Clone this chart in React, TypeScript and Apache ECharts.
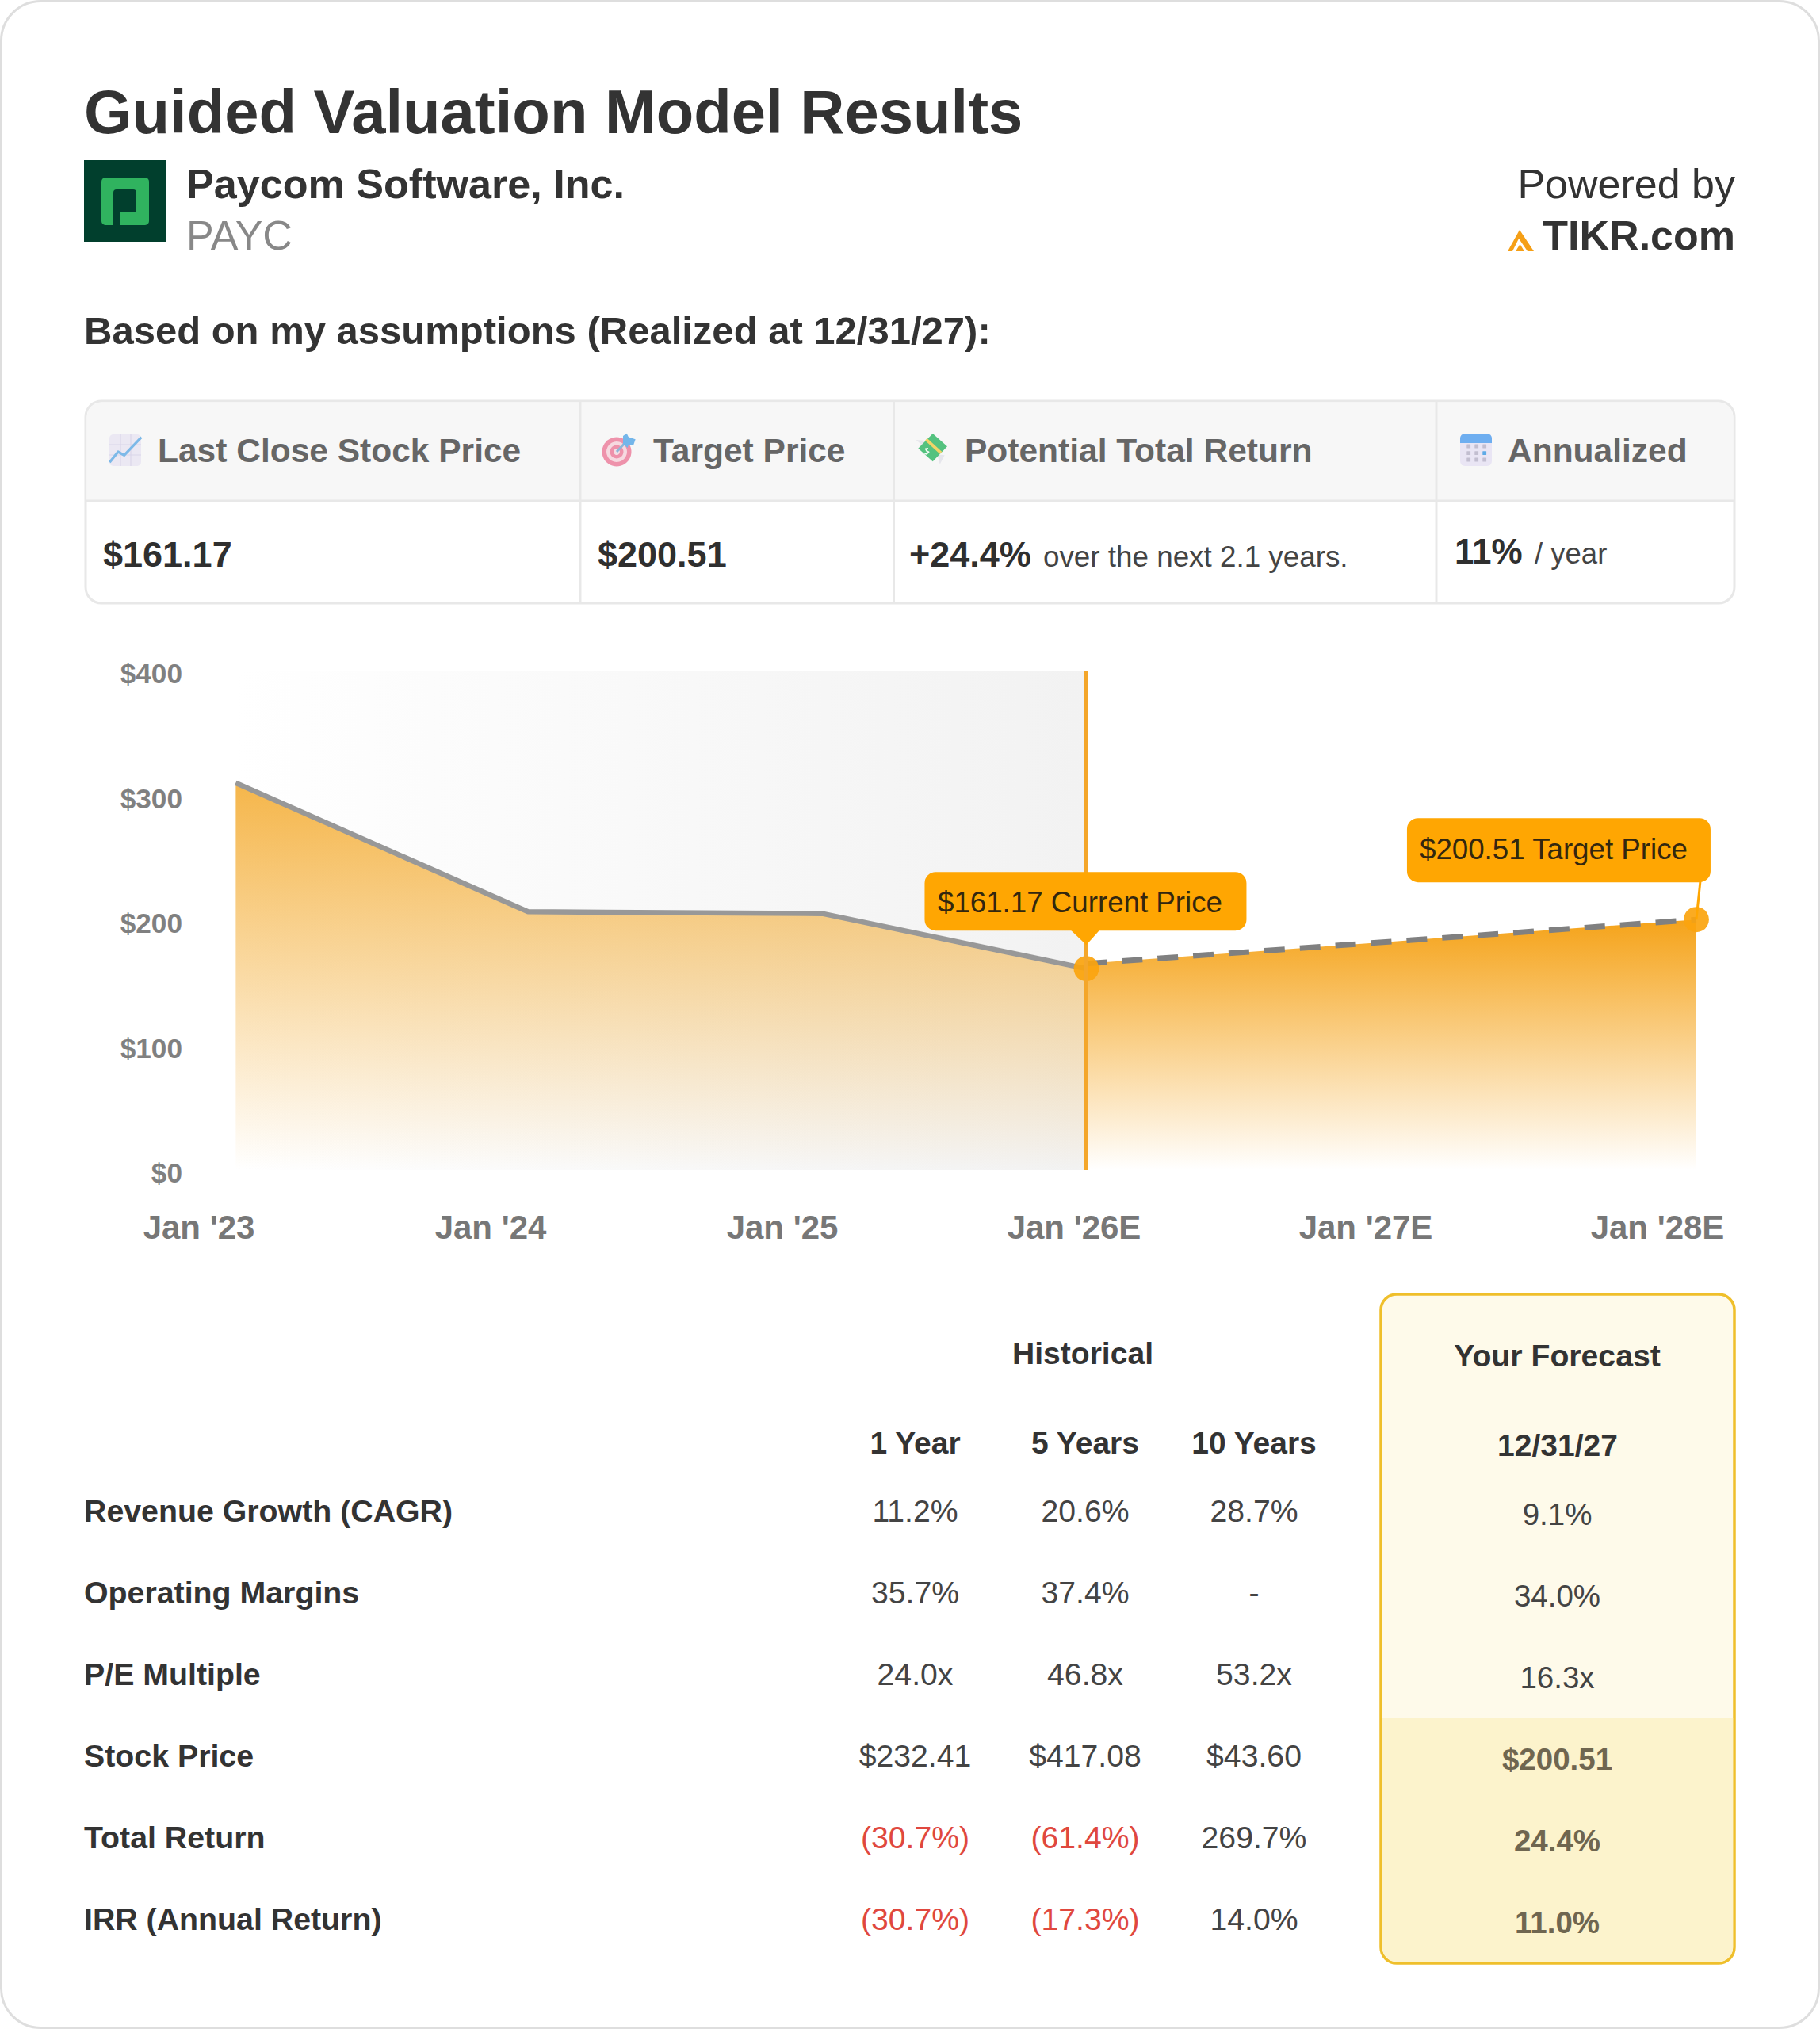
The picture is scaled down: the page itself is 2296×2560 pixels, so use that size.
import React, { useEffect, useRef } from "react";
import * as echarts from "echarts";

const FONT = '"Liberation Sans", Arial, Helvetica, sans-serif';

const dates = [2023.126, 2024.128, 2025.137, 2026.042];
const historicalPrices = [310, 206.8, 205.3, 161.17];
const forecastDates = [2026.042, 2028.133];
const forecastPrices = [165.2, 200.51];
const markerDates = [2026.042, 2028.133];
const markerPrices = [161.17, 200.51];
const xTickLabels = ["Jan '23", "Jan '24", "Jan '25", "Jan '26E", "Jan '27E", "Jan '28E"];

const summaryHeaders = ["Last Close Stock Price", "Target Price", "Potential Total Return", "Annualized"];
const rowLabels = ["Revenue Growth (CAGR)", "Operating Margins", "P/E Multiple", "Stock Price", "Total Return", "IRR (Annual Return)"];
const historyHeaders = ["1 Year", "5 Years", "10 Years"];
const oneYear = ["11.2%", "35.7%", "24.0x", "$232.41", "(30.7%)", "(30.7%)"];
const fiveYears = ["20.6%", "37.4%", "46.8x", "$417.08", "(61.4%)", "(17.3%)"];
const tenYears = ["28.7%", "-", "53.2x", "$43.60", "269.7%", "14.0%"];
const forecast = ["9.1%", "34.0%", "16.3x", "$200.51", "24.4%", "11.0%"];

type Any = any;

function T(text: string, x: number, y: number, size: number, weight: string, fill: string, align = "left"): Any {
  return {
    type: "text", z: 100, x, y, silent: true,
    style: { text, fill, font: `${weight} ${size}px ${FONT}`, textAlign: align, textVerticalAlign: "middle" },
  };
}
function R(x: number, y: number, width: number, height: number, fill: string, r: Any = 0, stroke?: string, lineWidth = 0, z = 50): Any {
  return {
    type: "rect", z, silent: true,
    shape: { x, y, width, height, r },
    style: { fill, stroke: stroke || undefined, lineWidth },
  };
}
function L(x1: number, y1: number, x2: number, y2: number, stroke: string, lineWidth: number, z = 60): Any {
  return { type: "line", z, silent: true, shape: { x1, y1, x2, y2 }, style: { stroke, lineWidth } };
}
function PG(points: number[][], fill: string, z = 60): Any {
  return { type: "polygon", z, silent: true, shape: { points }, style: { fill } };
}
function PL(points: number[][], stroke: string, lineWidth: number, z = 61): Any {
  return { type: "polyline", z, silent: true, shape: { points }, style: { stroke, lineWidth, fill: "none", lineJoin: "round" } };
}
function C(cx: number, cy: number, r: number, fill: string, z = 60): Any {
  return { type: "circle", z, silent: true, shape: { cx, cy, r }, style: { fill } };
}
// icon points are given on a 180-unit grid covering a 60px square
const u = (ox: number, oy: number, pts: number[][]) => pts.map(([a, b]) => [ox + a / 3, oy + b / 3]);

function chartIcon(ox: number, oy: number): Any[] {
  const out: Any[] = [R(ox + 13, oy + 13, 40, 40, "#ebe8f3", 5, undefined, 0, 60)];
  [27, 40].forEach((d) => {
    out.push(L(ox + d, oy + 13, ox + d, oy + 53, "#dad6e9", 1.2, 60));
    out.push(L(ox + 13, oy + d - 1, ox + 53, oy + d - 1, "#dad6e9", 1.2, 60));
  });
  out.push(PL(u(ox, oy, [[40, 145], [72, 105], [95, 118], [160, 50]]), "#7db9e8", 3.2));
  return out;
}
function targetIcon(ox: number, oy: number): Any[] {
  const cx = ox + 28, cy = oy + 35;
  return [
    C(cx, cy, 18.5, "#ee92ab"), C(cx, cy, 13, "#f6d9e0"), C(cx, cy, 8.5, "#ee92ab"), C(cx, cy, 4, "#f3dfe4"),
    L(cx, cy, ox + 42, oy + 20, "#8fb7d8", 3),
    PG(u(ox, oy, [[108, 45], [122, 35], [135, 62], [125, 90], [108, 75]]), "#74b6ea"),
    PG(u(ox, oy, [[125, 48], [155, 58], [148, 78], [122, 78]]), "#74b6ea"),
  ];
}
function moneyIcon(ox: number, oy: number): Any[] {
  return [
    PG(u(ox, oy, [[32, 60], [62, 62], [60, 85]]), "#e6e6ec"),
    PG(u(ox, oy, [[112, 115], [140, 118], [122, 152]]), "#e6e6ec"),
    PG(u(ox, oy, [[95, 36], [150, 85], [95, 142], [40, 92]]), "#54c27f"),
    PG(u(ox, oy, [[66, 62], [74, 54], [130, 105], [122, 113]]), "#f1d468", 61),
    PL(u(ox, oy, [[78, 92], [68, 94], [72, 102], [80, 106], [72, 114], [64, 112]]), "#f3fbf6", 1.6, 62),
  ];
}
function calendarIcon(ox: number, oy: number): Any[] {
  const out: Any[] = [
    R(ox + 10, oy + 12, 40, 41, "#e9e5f4", 6, undefined, 0, 60),
    R(ox + 10, oy + 12, 40, 12, "#6eaef0", [6, 6, 0, 0], undefined, 0, 61),
  ];
  [28, 36.7, 45].forEach((dy, i) =>
    [20.7, 30.7, 40.7].forEach((dx, j) => {
      out.push(R(ox + dx - 2.4, oy + dy - 2.4, 4.8, 4.8, i === 1 && j === 2 ? "#5eaae6" : "#c2bed0", 0.5, undefined, 0, 62));
    })
  );
  return out;
}

function buildGraphics(cur: number[], tgt: number[]): Any[] {
  const els: Any[] = [];
  // card
  els.push(R(1.5, 1.5, 2293, 2557, "rgba(255,255,255,0)", 50, "#dedede", 3, 1));

  // header
  els.push(T("Guided Valuation Model Results", 106, 141, 77.8, "bold", "#333333"));
  els.push(R(106, 202, 103, 103, "#013f2d"));
  els.push(R(128, 224, 60, 60, "#30b35f", 5, undefined, 0, 51));
  els.push(R(143, 239, 29, 29, "#013f2d", 4, undefined, 0, 52));
  els.push(R(143, 255, 9, 31, "#013f2d", 0, undefined, 0, 52));
  els.push(R(152, 268, 8, 16, "#30b35f", 0, undefined, 0, 53));
  els.push(T("Paycom Software, Inc.", 235, 232, 52.1, "bold", "#333333"));
  els.push(T("PAYC", 235, 297, 52, "normal", "#888888"));
  els.push(T("Powered by", 2189, 232, 52, "normal", "#333333", "right"));
  els.push(T("TIKR.com", 2189, 297, 52, "bold", "#333333", "right"));
  els.push(PG([[1917, 290], [1935, 317], [1902, 317]], "#f59f16"));
  els.push(PG([[1916, 301], [1927, 317], [1908, 317]], "#ffffff", 61));
  els.push(PG([[1917.5, 308], [1923, 317], [1912, 317]], "#f59f16", 62));
  els.push(T("Based on my assumptions (Realized at 12/31/27):", 106, 417, 49, "bold", "#333333"));

  // summary table
  els.push(R(108, 506, 2080, 255, "#ffffff", 20, "#e8e8e8", 3, 50));
  els.push(R(109.5, 507.5, 2077, 124, "#f7f7f7", [19, 19, 0, 0], undefined, 0, 51));
  els.push(L(108, 632, 2188, 632, "#e8e8e8", 3, 52));
  [732, 1127.5, 1812].forEach((x) => els.push(L(x, 506, x, 761, "#e8e8e8", 3, 52)));
  const hx = [199, 824, 1217, 1902];
  summaryHeaders.forEach((h, i) => els.push(T(h, hx[i], 568, 42.5, "bold", "#666666")));
  els.push(...chartIcon(125, 535), ...targetIcon(750, 535), ...moneyIcon(1145, 535), ...calendarIcon(1832, 535));
  els.push(T("$161.17", 130, 699, 45, "bold", "#2f2f2f"));
  els.push(T("$200.51", 754, 699, 45, "bold", "#2f2f2f"));
  els.push(T("+24.4%", 1147, 699, 45, "bold", "#2f2f2f"));
  els.push(T("over the next 2.1 years.", 1316, 702, 36.8, "normal", "#444444"));
  els.push(T("11%", 1835, 695, 44, "bold", "#2f2f2f"));
  els.push(T("/ year", 1936, 698, 36.5, "normal", "#444444"));

  // callouts on the chart, anchored on the data points
  const orange = "#ffa602";
  els.push(R(cur[0] - 204, cur[1] - 122, 406, 74, orange, 14, undefined, 0, 90));
  els.push(PG([[cur[0] - 20, cur[1] - 49], [cur[0] + 17, cur[1] - 49], [cur[0], cur[1] - 30]], orange, 90));
  els.push(T("$161.17 Current Price", cur[0] - 8, cur[1] - 84, 36.7, "normal", "#33270f", "center"));
  els.push(R(tgt[0] - 365, tgt[1] - 128, 383, 81, orange, 14, undefined, 0, 90));
  els.push(L(tgt[0] + 5, tgt[1] - 48, tgt[0], tgt[1], orange, 3, 89));
  els.push(T("$200.51 Target Price", tgt[0] - 180, tgt[1] - 89, 36.7, "normal", "#33270f", "center"));

  // metrics table
  els.push(T("Historical", 1366, 1707, 39.1, "bold", "#333333", "center"));
  const colX = [1154.5, 1369, 1582];
  historyHeaders.forEach((h, i) => els.push(T(h, colX[i], 1820, 39, "bold", "#333333", "center")));
  const rowY = [1906, 2009, 2112, 2215, 2318, 2421];
  rowLabels.forEach((label, i) => {
    els.push(T(label, 106, rowY[i], 39.3, "bold", "#333333"));
    [oneYear, fiveYears, tenYears].forEach((col, c) => {
      const v = col[i];
      const neg = v.startsWith("(");
      els.push(T(v, colX[c], rowY[i] + 0.5, 39.2, "normal", neg ? "#e0483e" : "#444444", "center"));
    });
  });
  // forecast column
  els.push(R(1742, 1633, 446, 844, "#fefaea", 20, "#efbf2b", 3.5, 50));
  els.push(R(1743.8, 2168, 442.4, 307, "#fcf3cc", [0, 0, 18, 18], undefined, 0, 51));
  els.push(T("Your Forecast", 1964.5, 1710, 39.2, "bold", "#333333", "center"));
  els.push(T("12/31/27", 1965, 1823, 39, "bold", "#333333", "center"));
  const fy = [1910, 2013, 2116, 2219, 2322, 2425];
  forecast.forEach((v, i) => {
    els.push(T(v, 1964.5, fy[i], 38.5, i >= 3 ? "bold" : "normal", i >= 3 ? "#6f6650" : "#444444", "center"));
  });
  return els;
}

export default function App() {
  const ref = useRef<HTMLDivElement>(null);
  useEffect(() => {
    const chart = echarts.init(ref.current!, null, { renderer: "svg", width: 2296, height: 2560 });
    const lastDate = dates[dates.length - 1];
    chart.setOption({
      animation: false,
      backgroundColor: "#ffffff",
      grid: { left: 251, top: 846, width: 1913.6, height: 630, containLabel: false },
      xAxis: {
        type: "value", min: 2023, max: 2028.2, interval: 1,
        axisLine: { show: false }, axisTick: { show: false }, splitLine: { show: false },
        axisLabel: {
          color: "#777777", fontFamily: FONT, fontWeight: "bold", fontSize: 42, margin: 72,
          showMaxLabel: false, verticalAlign: "middle",
          formatter: (v: number) => (Number.isInteger(v) ? xTickLabels[v - 2023] ?? "" : ""),
        },
      },
      yAxis: {
        type: "value", min: 0, max: 400, interval: 100,
        axisLine: { show: false }, axisTick: { show: false }, splitLine: { show: false },
        axisLabel: {
          color: "#808080", fontFamily: FONT, fontWeight: "bold", fontSize: 35.2, margin: 21,
          verticalAlign: "top", lineHeight: 7, formatter: (v: number) => `$${v}`,
        },
      },
      series: [
        {
          type: "line", z: 2, showSymbol: false,
          data: dates.map((d, i) => [d, historicalPrices[i]]),
          lineStyle: { color: "#989898", width: 6.5 },
          areaStyle: {
            opacity: 1,
            origin: "start",
            color: new echarts.graphic.LinearGradient(0, 0, 0, 1, [
              { offset: 0, color: "rgba(243,166,35,0.82)" },
              { offset: 1, color: "rgba(243,166,35,0)" },
            ]),
          },
          markArea: {
            silent: true,
            itemStyle: {
              opacity: 1,
              color: new echarts.graphic.LinearGradient(0, 0, 1, 0, [
                { offset: 0, color: "rgba(242,242,242,0)" },
                { offset: 1, color: "rgba(242,242,242,1)" },
              ]),
            },
            data: [[{ coord: [dates[0], 400] }, { coord: [lastDate, 0] }]],
          },
          markLine: {
            silent: true, symbol: "none", label: { show: false },
            lineStyle: { color: "#f4a62a", width: 5, type: "solid", opacity: 1 },
            data: [{ xAxis: lastDate }],
          },
        },
        {
          type: "line", z: 3, showSymbol: false,
          data: forecastDates.map((d, i) => [d, forecastPrices[i]]),
          lineStyle: { color: "#808080", width: 7, type: [26, 19] },
          areaStyle: {
            opacity: 1,
            origin: "start",
            color: new echarts.graphic.LinearGradient(0, 0, 0, 1, [
              { offset: 0, color: "rgba(245,163,25,1)" },
              { offset: 1, color: "rgba(245,163,25,0)" },
            ]),
          },
        },
        {
          type: "scatter", z: 4, symbolSize: 32,
          itemStyle: { color: "#fba40e", opacity: 0.92 },
          data: markerDates.map((d, i) => [d, markerPrices[i]]),
        },
      ],
    });
    const cur = chart.convertToPixel({ gridIndex: 0 }, [markerDates[0], markerPrices[0]]) as number[];
    const tgt = chart.convertToPixel({ gridIndex: 0 }, [markerDates[1], markerPrices[1]]) as number[];
    chart.setOption({ graphic: { elements: buildGraphics(cur, tgt) } });
    return () => chart.dispose();
  }, []);
  return <div ref={ref} style={{ position: "absolute", left: 0, top: 0, width: 2296, height: 2560 }} />;
}
